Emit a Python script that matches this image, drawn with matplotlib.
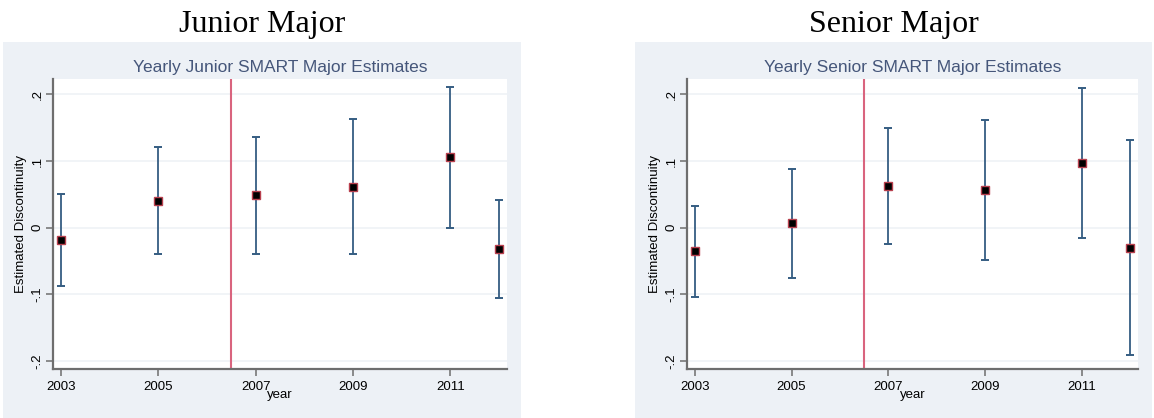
import matplotlib
matplotlib.use("Agg")
import matplotlib.pyplot as plt
from matplotlib.patches import Rectangle

# Estimates by year (point estimate with 95% CI)
years = [2003, 2005, 2007, 2009, 2011, 2012]

junior_est = [-0.019, 0.040, 0.049, 0.061, 0.106, -0.032]
junior_lo = [-0.087, -0.040, -0.039, -0.040, 0.000, -0.106]
junior_hi = [0.051, 0.121, 0.136, 0.163, 0.211, 0.042]

senior_est = [-0.035, 0.007, 0.063, 0.057, 0.097, -0.030]
senior_lo = [-0.104, -0.075, -0.024, -0.049, -0.016, -0.191]
senior_hi = [0.032, 0.088, 0.149, 0.162, 0.209, 0.132]

x_ticks = [2003, 2005, 2007, 2009, 2011]
y_ticks = [-0.2, -0.1, 0.0, 0.1, 0.2]
y_ticklabels = ["-.2", "-.1", "0", ".1", ".2"]
cutoff_year = 2006.5

panels = [
    ("Junior Major", "Yearly Junior SMART Major Estimates", junior_est, junior_lo, junior_hi),
    ("Senior Major", "Yearly Senior SMART Major Estimates", senior_est, senior_lo, senior_hi),
]

W, H = 1154, 418
fig = plt.figure(figsize=(W / 100, H / 100), dpi=100)
fig.patch.set_facecolor("white")

bg_col = "#edf1f6"
navy = "#355d82"
title_col = "#45567a"
sans = ["Liberation Sans", "DejaVu Sans"]

# pixel geometry: (background left, background right, axes left, axes right)
layout = [(3, 521, 53, 507), (635, 1152, 687, 1138)]
ax_top, ax_bot, bg_top = 79, 369, 42

for (header, title, est, lo, hi), (bl, br, al, ar) in zip(panels, layout):
    fig.patches.append(Rectangle((bl / W, 0), (br - bl) / W, (H - bg_top) / H,
                                 transform=fig.transFigure, facecolor=bg_col,
                                 edgecolor="none", zorder=-5))
    fig.text((bl + br) / 2 / W, 1 - 32 / H, header, ha="center", va="baseline",
             fontsize=23, family=["Liberation Serif", "DejaVu Serif"], color="black")

    ax = fig.add_axes([al / W, (H - ax_bot) / H, (ar - al) / W, (ax_bot - ax_top) / H])
    ax.set_zorder(5)
    ax.set_facecolor("white")
    ax.set_xlim(2002.84, 2012.16)
    ax.set_ylim(-0.212, 0.223)

    for yv in y_ticks:
        ax.axhline(yv, color="#eff2f6", lw=1.2, zorder=1)

    ax.axvline(cutoff_year, color="#d9647e", lw=1.5, zorder=2)

    err_lo = [e - l for e, l in zip(est, lo)]
    err_hi = [h - e for e, h in zip(est, hi)]
    ax.errorbar(years, est, yerr=[err_lo, err_hi], fmt="none", ecolor=navy,
                elinewidth=1.3, capsize=2.6, capthick=1.4, zorder=3)
    ax.plot(years, est, linestyle="none", marker="s", markersize=5.2,
            markerfacecolor="black", markeredgecolor="#b8404e",
            markeredgewidth=1.0, zorder=4)

    for side in ("top", "right"):
        ax.spines[side].set_visible(False)
    for side in ("left", "bottom"):
        ax.spines[side].set_color("#6e6e6e")
        ax.spines[side].set_linewidth(1.6)

    ax.set_xticks(x_ticks)
    ax.set_xticklabels([str(x) for x in x_ticks], fontsize=9.5, family=sans)
    ax.set_yticks(y_ticks)
    ax.set_yticklabels(y_ticklabels, fontsize=9.5, family=sans, rotation=90,
                       va="center")
    ax.tick_params(axis="both", direction="out", length=5, width=1.1,
                   color="#6e6e6e", labelcolor="black", pad=2)
    ax.tick_params(axis="x", pad=4)

    ax.set_xlabel("year", fontsize=9.5, family=sans, labelpad=-3)
    ax.set_ylabel("Estimated Discontinuity", fontsize=9.5, family=sans, labelpad=3)
    ax.set_title(title, fontsize=12.5, family=sans, color=title_col, pad=5)

fig.savefig("out.png", dpi=100, facecolor="white")
